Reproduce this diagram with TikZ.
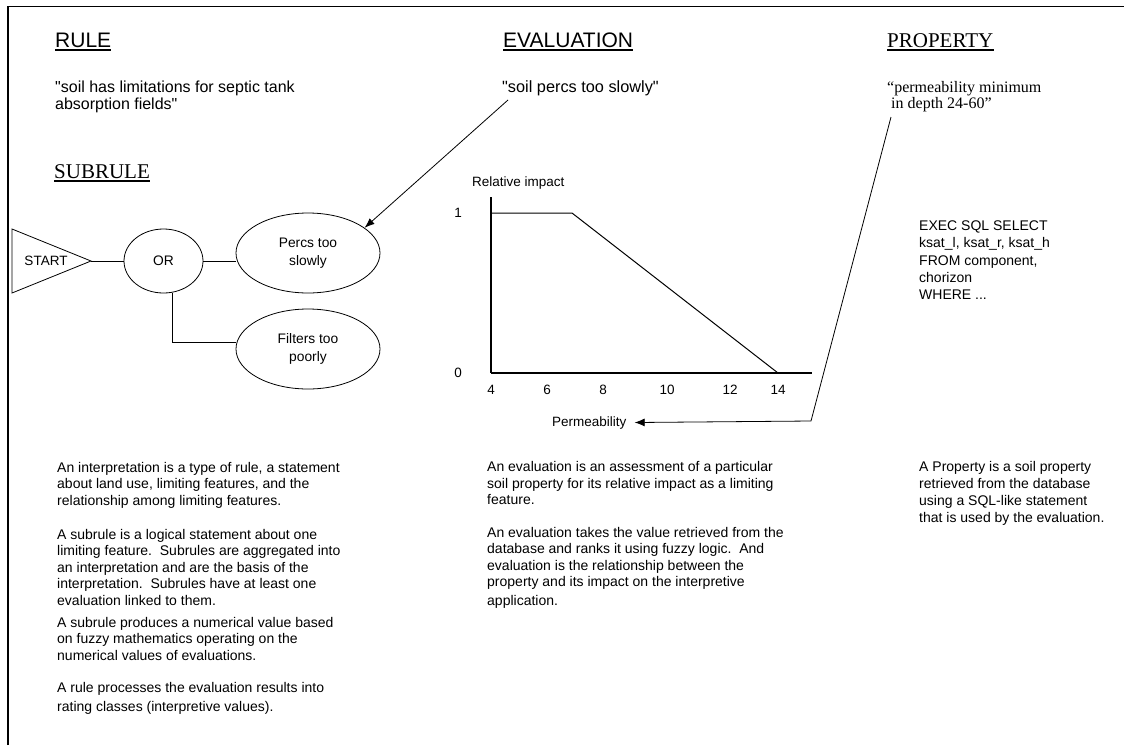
\documentclass[tikz,border=0pt]{standalone}
\usepackage{fontspec}
\setmainfont{Liberation Sans}
\newfontfamily\serifface{Liberation Serif}
\usetikzlibrary{arrows.meta,shapes.geometric}
% straight double quote, printed as a glyph so no ligature mapping touches it
\newcommand\sq{\XeTeXglyph\XeTeXcharglyph"22\relax}
\begin{document}
\begin{tikzpicture}[x=1pt,y=-1pt,
  every node/.style={inner sep=0pt},
  head/.style={anchor=base west, font=\fontsize{21}{24}\selectfont},
  shead/.style={anchor=base west, font=\serifface\fontsize{21}{24}\selectfont},
  quote/.style={anchor=north west, align=left, font=\fontsize{16}{16}\selectfont},
  body/.style={anchor=north west, align=left, font=\fontsize{14}{16.5}\selectfont},
  lbl/.style={font=\fontsize{13.5}{16}\selectfont},
  bubble/.style={ellipse, draw, line width=0.8pt, align=center, font=\fontsize{13.8}{18}\selectfont},
  link/.style={line width=0.8pt},
  pointer/.style={line width=0.8pt, -{Latex[length=10pt,width=7.5pt]}},
  ul/.style={line width=1.2pt}
]
\fill[white] (0,0) rectangle (1124,745);
\useasboundingbox (0,0) rectangle (1124,745);

% page frame (top and left edges)
\draw[line width=1.6pt] (8,745) -- (8,6.5) -- (1124,6.5);

% section headings
\node[head] (rule) at (55,47) {RULE};
\node[head] (eval) at (503,47) {EVALUATION};
\node[shead] (prop) at (887,47) {PROPERTY};
\node[shead] (subrule) at (54,178) {SUBRULE};
\foreach \n in {rule,eval,prop,subrule}
  \draw[ul] ([yshift=-3pt]\n.base west) -- ([yshift=-3pt]\n.base east);

% quoted statements
\node[quote] (ruleq) at (55,80.8) {\strut\sq soil has limitations for septic tank\\absorption fields\sq};
\node[quote, font=\fontsize{16.3}{16}\selectfont] (evalq) at (502,80.8) {\strut\sq soil percs too slowly\sq};
\node[quote, font=\serifface\fontsize{16}{16}\selectfont] (propq) at (887,80.8)
  {\strut“permeability minimum\\\hspace{4pt}in depth 24-60”};

% subrule tree
\coordinate (tip) at (91,261);
\draw[link] (12,229) -- (tip) -- (12,293) -- cycle;
\node[lbl] (start) at (46,261) {START};
\node[bubble, minimum width=79pt, minimum height=64pt] (or) at (163.5,261) {OR};
\node[bubble, minimum width=144pt, minimum height=80pt] (percs) at (308,253) {Percs too\\slowly};
\node[bubble, minimum width=144pt, minimum height=80pt] (filters) at (308,349) {Filters too\\poorly};
\draw[link] (tip) -- (or.west);
\draw[link] (or.east) -- ([yshift=-8pt]percs.west);
\draw[link] ([xshift=8.5pt]or.south) |- ([yshift=7pt]filters.west);

% evaluation points at its subrule
\coordinate (evqa) at (508,100);
\draw[pointer] (evqa) -- (percs.24);

% membership curve
\coordinate (o) at (491,373);
\coordinate (ytop) at (491,197);
\coordinate (xend) at (812,373);
\coordinate (c1) at (491,213);
\coordinate (c2) at (572,213);
\coordinate (c3) at (778,373);
\draw[line width=2pt] (ytop) -- (o);
\draw[line width=1.2pt] (o) -- (xend);
\draw[line width=1pt] (c1) -- (c2) -- (c3);
\node[lbl, anchor=base west] (yl) at (472,186.5) {Relative impact};
\node[lbl] (y1) at (458,213) {1};
\node[lbl] (y0) at (458,373) {0};
\node[lbl] (t4) at (491,390) {4};
\node[lbl] (t6) at (547,390) {6};
\node[lbl] (t8) at (603,390) {8};
\node[lbl] (t10) at (667,390) {10};
\node[lbl] (t12) at (730,390) {12};
\node[lbl] (t14) at (778,390) {14};
\node[lbl, anchor=base west] (perm) at (552,426) {Permeability};

% property feeds the evaluation axis
\coordinate (pqa) at (891,117);
\coordinate (bend) at (811,421);
\draw[line width=0.8pt, -{Latex[length=10pt,width=8pt]}] (pqa) -- (bend) -- ([xshift=8pt]perm.east);

% query text
\node[anchor=north west, align=left, font=\fontsize{14}{17.2}\selectfont] (sql) at (919,218.5)
  {\strut EXEC SQL SELECT\\ksat\_l, ksat\_r, ksat\_h\\FROM component,\\chorizon\\WHERE ...};

% explanatory notes
\node[body] (n1) at (57,460.5) {\strut An interpretation is a type of rule, a statement\\about land use, limiting features, and the\\relationship among limiting features.};
\node[body] (n2) at (57,527.3) {\strut A subrule is a logical statement about one\\limiting feature.\ \ Subrules are aggregated into\\an interpretation and are the basis of the\\interpretation.\ \ Subrules have at least one\\evaluation linked to them.};
\node[body] (n3) at (57,615.3) {\strut A subrule produces a numerical value based\\on fuzzy mathematics operating on the\\numerical values of evaluations.};
\node[body] (n4) at (57,681) {\strut A rule processes the evaluation results into\\[2pt]rating classes (interpretive values).};

\node[body] (m1) at (487,460) {\strut An evaluation is an assessment of a particular\\soil property for its relative impact as a limiting\\feature.};
\node[body] (m2) at (487,525.3) {\strut An evaluation takes the value retrieved from the\\database and ranks it using fuzzy logic.\ \ And\\evaluation is the relationship between the\\property and its impact on the interpretive\\[2.5pt]application.};

\node[body, font=\fontsize{14}{17}\selectfont] (r1) at (919,459.6) {\strut A Property is a soil property\\retrieved from the database\\using a SQL-like statement\\that is used by the evaluation.};
\end{tikzpicture}
\end{document}
